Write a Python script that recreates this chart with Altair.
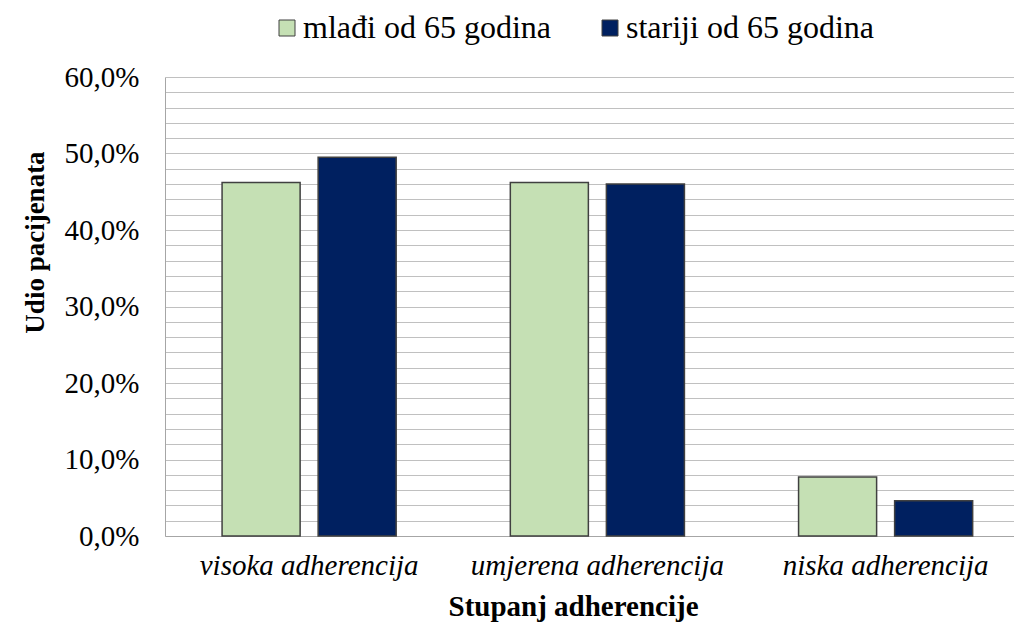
import altair as alt
import pandas as pd

categories = ["visoka adherencija", "umjerena adherencija", "niska adherencija"]
series = ["mlađi od 65 godina", "stariji od 65 godina"]
mladji = [46.2, 46.2, 7.7]
stariji = [49.5, 46.0, 4.6]
colors = ["#c5e0b4", "#002060"]
y_ticks = list(range(0, 61, 2))

rows = []
for c, a, b in zip(categories, mladji, stariji):
    rows.append({"cat": c, "series": series[0], "value": a})
    rows.append({"cat": c, "series": series[1], "value": b})
df = pd.DataFrame(rows)

FONT = "Liberation Serif"

chart = alt.Chart(df).mark_bar(stroke="#404040", strokeWidth=1.5).encode(
    x=alt.X(
        "cat:N",
        sort=categories,
        scale=alt.Scale(paddingInner=0.396, paddingOuter=0.1707, align=0.58),
        axis=alt.Axis(
            title="Stupanj adherencije",
            labelAngle=0,
            labelFontStyle="italic",
            labelFontSize=29,
            labelColor="#000000",
            labelPadding=15,
            labelLimit=500,
            ticks=False,
            domainColor="#a6a6a6",
            domainWidth=1,
            titleFontWeight="bold",
            titleFontSize=29,
            titleColor="#000000",
            titleX=408,
            titleY=79,
            titleAlign="center",
            titleBaseline="alphabetic",
        ),
    ),
    xOffset=alt.XOffset(
        "series:N", sort=series, scale=alt.Scale(paddingInner=0.1875, paddingOuter=0)
    ),
    y=alt.Y(
        "value:Q",
        scale=alt.Scale(domain=[0, 60], nice=False),
        axis=alt.Axis(
            values=y_ticks,
            labelExpr="datum.value % 10 === 0 ? replace(format(datum.value, '.1f'), '.', ',') + '%' : ''",
            labelOverlap=False,
            labelFontSize=29,
            labelColor="#000000",
            labelPadding=26,
            ticks=False,
            grid=True,
            gridColor="#c0c0c0",
            gridWidth=1,
            domainColor="#a6a6a6",
            domainWidth=1,
            title="Udio pacijenata",
            titleFontWeight="bold",
            titleFontSize=27,
            titleColor="#000000",
            titleX=-130,
            titleY=165,
            titleAngle=270,
            titleAlign="center",
            titleBaseline="middle",
        ),
    ),
    color=alt.Color(
        "series:N",
        sort=series,
        scale=alt.Scale(domain=series, range=colors),
        legend=alt.Legend(
            orient="none",
            legendX=106,
            legendY=-65,
            direction="horizontal",
            title=None,
            symbolType="square",
            symbolSize=256,
            symbolStrokeColor="#404040",
            symbolStrokeWidth=1,
            labelFontSize=32,
            labelColor="#000000",
            labelOffset=0,
            labelLimit=500,
            columnPadding=43,
            padding=0,
        ),
    ),
).properties(
    width=849,
    height=459,
    autosize=alt.AutoSizeParams(type="none"),
    padding={"left": 157, "top": 69, "right": 0, "bottom": 86},
).configure(
    font=FONT
).configure_axis(
    labelFont=FONT, titleFont=FONT
).configure_legend(
    labelFont=FONT
).configure_view(stroke=None)

chart.save("out.html", embed_options={"renderer": "svg", "actions": False})
